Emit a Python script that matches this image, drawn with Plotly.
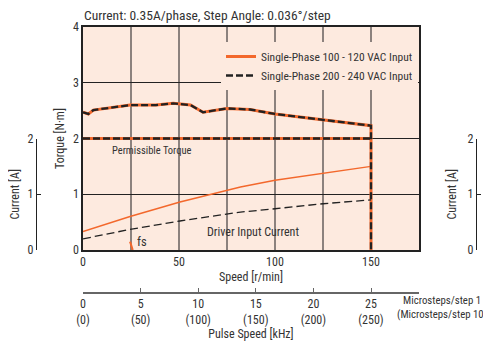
import plotly.graph_objects as go

W, H = 491, 343
OX, OY = 8, 8          # the page body adds an 8px margin
FW, FH = W - OX, H - OY

# ---- data ----
speed_torque = [0, 2.8, 5.4, 24.5, 38, 47, 56, 62.5, 75, 87, 100, 125, 150, 150]
torque = [2.47, 2.44, 2.51, 2.60, 2.60, 2.63, 2.60, 2.47, 2.54, 2.52, 2.44, 2.33, 2.23, 0]

speed_perm = [0, 150]
torque_perm = [2, 2]

speed_current = [0, 24.5, 50.5, 82, 100, 125, 150]
current_100v = [0.33, 0.60, 0.86, 1.13, 1.25, 1.38, 1.50]
current_200v = [0.20, 0.37, 0.52, 0.68, 0.74, 0.83, 0.90]

fs_speed = [24.5, 25.9]
fs_value = [0.15, 0.0]

pulse_ticks = [0, 5, 10, 15, 20, 25]
pulse_labels = ["0<br>(0)", "5<br>(50)", "10<br>(100)", "15<br>(150)", "20<br>(200)", "25<br>(250)"]

speed_ticks = [0, 25, 50, 75, 100, 125, 150, 175]
speed_labels = ["0", "", "50", "", "100", "", "150", ""]

FONT = "Liberation Sans Narrow, Roboto Condensed, Arial Narrow, Roboto, sans-serif"
ORANGE = "rgb(243,104,44)"
BG = "rgb(253,234,223)"
TXT = "#333"

# pixel helpers, in screenshot pixels (paper spans y 27..293)
TOP, BOT = 27, 293
def px(x):
    return (x - OX) / FW
def py(y):
    return (BOT - y) / (BOT - TOP)

y_dom = [py(250), 1.0]
cur_top = y_dom[0] + (y_dom[1] - y_dom[0]) * 2 / 4   # 2 A sits at torque 2

fig = go.Figure()

## orange series (100 - 120 VAC)
fig.add_trace(go.Scatter(x=speed_torque, y=torque, mode="lines",
    line=dict(color=ORANGE, width=3), name="Single-Phase 100 - 120 VAC Input",
    legendgroup="a"))
fig.add_trace(go.Scatter(x=speed_perm, y=torque_perm, mode="lines",
    line=dict(color=ORANGE, width=3), showlegend=False, legendgroup="a"))
fig.add_trace(go.Scatter(x=speed_current, y=current_100v, mode="lines",
    line=dict(color=ORANGE, width=1.5), showlegend=False, legendgroup="a"))
fig.add_trace(go.Scatter(x=fs_speed, y=fs_value, mode="lines",
    line=dict(color=ORANGE, width=2), showlegend=False, legendgroup="a"))

## black dashed series (200 - 240 VAC)
fig.add_trace(go.Scatter(x=speed_torque, y=torque, mode="lines",
    line=dict(color="#222", width=2.3, dash="7px,3px"),
    name="Single-Phase 200 - 240 VAC Input", legendgroup="b"))
fig.add_trace(go.Scatter(x=speed_perm, y=torque_perm, mode="lines",
    line=dict(color="#222", width=2.3, dash="7px,3px"), showlegend=False, legendgroup="b"))
fig.add_trace(go.Scatter(x=speed_current, y=current_200v, mode="lines",
    line=dict(color="#222", width=1.3, dash="8px,4px"), showlegend=False, legendgroup="b"))

# empty traces so the extra axes get drawn
fig.add_trace(go.Scatter(x=[], y=[], xaxis="x2", yaxis="y", showlegend=False))
fig.add_trace(go.Scatter(x=[], y=[], xaxis="x3", yaxis="y2", showlegend=False))
fig.add_trace(go.Scatter(x=[], y=[], xaxis="x4", yaxis="y3", showlegend=False))

axis_font = dict(family=FONT, size=12, color=TXT)

fig.update_layout(
    width=FW, height=FH,
    margin=dict(l=0, r=0, t=TOP - OY, b=FH - (BOT - OY)),
    paper_bgcolor="white",
    plot_bgcolor="rgba(0,0,0,0)",
    font=dict(family=FONT, size=12, color=TXT),
    showlegend=True,
    legend=dict(x=px(418), xanchor="right", y=py(42), yanchor="top",
                bgcolor=BG, borderwidth=0, itemwidth=30,
                font=dict(family=FONT, size=11.5, color=TXT),
                tracegroupgap=0),
    xaxis=dict(domain=[px(83), px(419)], range=[0, 175], anchor="y",
               tickvals=speed_ticks, ticktext=speed_labels, ticks="",
               showgrid=True, gridcolor="rgb(140,130,126)", gridwidth=1.6,
               showline=True, linecolor="#222", linewidth=1.5, mirror=True,
               zeroline=False, tickfont=axis_font, automargin=False,
               title=dict(text="Speed [r/min]", font=axis_font, standoff=4)),
    yaxis=dict(domain=y_dom, range=[0, 4], anchor="x",
               tickvals=[0, 1, 2, 3, 4], ticks="",
               showgrid=True, gridcolor="#222", gridwidth=1,
               showline=True, linecolor="#222", linewidth=1.5, mirror=True,
               zeroline=False, tickfont=axis_font, automargin=False,
               title=dict(text="Torque [N·m]", font=axis_font, standoff=6)),
    xaxis2=dict(overlaying="x", anchor="free", position=0, side="bottom",
                range=[0, 175 / 6], tickvals=pulse_ticks, ticktext=pulse_labels,
                ticks="inside", ticklen=4, tickcolor="#666",
                showline=True, linecolor="#666", linewidth=1.5,
                showgrid=False, zeroline=False, tickfont=axis_font, automargin=False,
                title=dict(text="Pulse Speed [kHz]", font=axis_font, standoff=2)),
    xaxis3=dict(domain=[px(37), px(37) + 0.001], anchor="y2", visible=False,
                showgrid=False, range=[0, 1]),
    yaxis2=dict(domain=[y_dom[0], cur_top], anchor="x3", range=[0, 2],
                tickvals=[0, 1, 2], ticks="inside", ticklen=4, tickcolor="#222",
                showline=True, linecolor="#222", linewidth=1.2,
                showgrid=False, zeroline=False, tickfont=axis_font, automargin=False,
                title=dict(text="Current [A]", font=axis_font, standoff=8)),
    xaxis4=dict(domain=[px(477), px(477) + 0.001], anchor="y3", visible=False,
                showgrid=False, range=[0, 1]),
    yaxis3=dict(domain=[y_dom[0], cur_top], anchor="x4", range=[0, 2],
                tickvals=[0, 1, 2], ticks="inside", ticklen=4, tickcolor="#222",
                showline=True, linecolor="#222", linewidth=1.2,
                showgrid=False, zeroline=False, tickfont=axis_font, automargin=False,
                title=dict(text="Current [A]", font=axis_font, standoff=8)),
)

# plot background
fig.add_shape(type="rect", xref="x domain", yref="y domain", x0=0, x1=1, y0=0, y1=1,
              fillcolor=BG, line_width=0, layer="below")

# chart title
fig.add_annotation(x=px(82), y=py(15), xref="paper", yref="paper",
                   xanchor="left", yanchor="middle", showarrow=False,
                   text="Current: 0.35A/phase, Step Angle: 0.036°/step",
                   font=dict(family=FONT, size=13.5, color=TXT))

fig.add_annotation(x=36, y=1.78, text="Permissible Torque", showarrow=False,
                   font=dict(family=FONT, size=10.5, color=TXT))
fig.add_annotation(x=88.5, y=0.33, text="Driver Input Current", showarrow=False,
                   font=dict(family=FONT, size=12, color=TXT))
fig.add_annotation(x=30.5, y=0.16, text="fs", showarrow=False,
                   font=dict(family=FONT, size=12.5, color=TXT))
fig.add_annotation(x=px(489), y=py(307), xref="paper", yref="paper",
                   xanchor="right", yanchor="middle",
                   text="Microsteps/step 1<br>(Microsteps/step 10)", showarrow=False,
                   align="center", font=dict(family=FONT, size=10.8, color=TXT))
# edge of the neighbouring chart, clipped by the page
fig.add_annotation(x=px(495), y=py(112), xref="paper", yref="paper",
                   xanchor="center", yanchor="middle",
                   text="Torque [N·m]", textangle=-90, showarrow=False,
                   font=dict(family=FONT, size=12, color="#aaa"))

fig.write_html("out.html")
